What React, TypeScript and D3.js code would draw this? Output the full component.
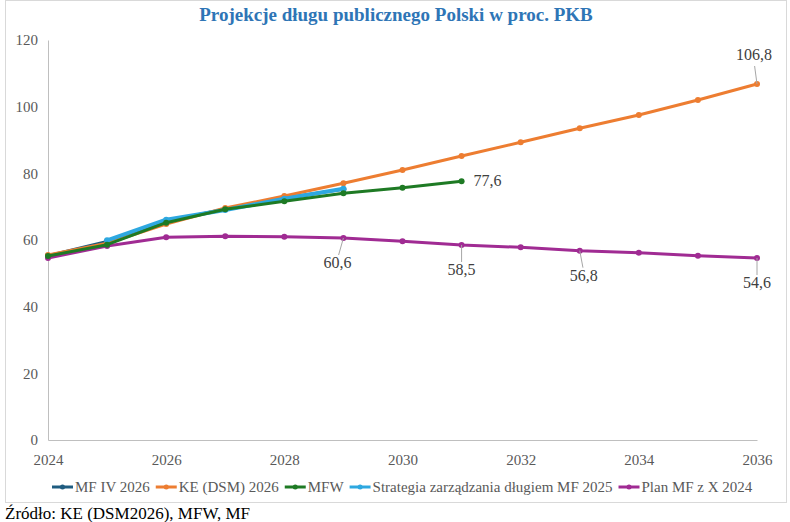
import React, { useEffect, useRef } from 'react';
import * as d3 from 'd3';

// years on the x axis
const years = [2024, 2025, 2026, 2027, 2028, 2029, 2030, 2031, 2032, 2033, 2034, 2035, 2036];
const xTicks = [2024, 2026, 2028, 2030, 2032, 2034, 2036];
const yTicks = [0, 20, 40, 60, 80, 100, 120];

// series values (% PKB), null = no data
const mfIv2026 = [55.3, 59.6, 65.6, 69.3, 72.6, 75.2, null, null, null, null, null, null, null];
const keDsm2026 = [55.5, 59.0, 64.8, 69.6, 73.2, 77.0, 81.0, 85.2, 89.3, 93.5, 97.5, 102.0, 106.8];
const mfw = [55.2, 58.6, 65.2, 69.2, 71.6, 74.0, 75.7, 77.6, null, null, null, null, null];
const strategia = [null, 59.9, 66.1, 69.0, 72.4, 75.4, null, null, null, null, null, null, null];
const planMf = [54.6, 58.2, 60.8, 61.1, 61.0, 60.6, 59.6, 58.5, 57.8, 56.8, 56.2, 55.3, 54.6];

const seriesNames = ['MF IV 2026', 'KE (DSM) 2026', 'MFW', 'Strategia zarządzania długiem MF 2025', 'Plan MF z X 2024'];
const seriesColors = ['#1f5c80', '#ed7d31', '#1e7a24', '#2ea8e0', '#a02b93'];

// labelled points: series index, year, text
const pointLabels = [
    { s: 1, year: 2036, text: '106,8', dx: -3, dy: -24, anchor: 'middle', leader: true },
    { s: 2, year: 2031, text: '77,6', dx: 12, dy: 5, anchor: 'start', leader: false },
    { s: 4, year: 2029, text: '60,6', dx: -6, dy: 30, anchor: 'middle', leader: true },
    { s: 4, year: 2031, text: '58,5', dx: 0, dy: 30, anchor: 'middle', leader: true },
    { s: 4, year: 2033, text: '56,8', dx: 4, dy: 30, anchor: 'middle', leader: true },
    { s: 4, year: 2036, text: '54,6', dx: 0, dy: 30, anchor: 'middle', leader: true },
];

export default function App() {
    const ref = useRef<SVGSVGElement>(null);

    useEffect(() => {
        drawChart();
        // eslint-disable-next-line
    }, []);

    function drawChart() {
        const width = 790;
        const height = 522;
        const margin = { top: 40, right: 33, bottom: 82, left: 48 };
        const font = "'Liberation Serif', 'Times New Roman', serif";
        const grey = '#595959';

        const svg = d3.select(ref.current);
        svg.selectAll('*').remove();

        // chart frame
        svg.append('rect')
            .attr('x', 5.5)
            .attr('y', 0.5)
            .attr('width', 781)
            .attr('height', 502)
            .attr('fill', '#fff')
            .attr('stroke', '#d9d9d9');

        svg.append('text')
            .attr('x', 396)
            .attr('y', 21)
            .attr('text-anchor', 'middle')
            .attr('font-family', font)
            .attr('font-weight', 'bold')
            .attr('font-size', 19)
            .attr('fill', '#2e75b6')
            .text('Projekcje długu publicznego Polski w proc. PKB');

        const x = d3
            .scaleLinear()
            .domain([2024, 2036])
            .range([margin.left, width - margin.right]);
        const y = d3
            .scaleLinear()
            .domain([0, 120])
            .range([height - margin.bottom, margin.top]);

        // axes
        const xAxis = svg
            .append('g')
            .attr('transform', `translate(0,${y(0)})`)
            .call(d3.axisBottom(x).tickValues(xTicks).tickFormat(d3.format('d')).tickSize(0).tickPadding(14));
        const yAxis = svg
            .append('g')
            .attr('transform', `translate(${x(2024)},0)`)
            .call(d3.axisLeft(y).tickValues(yTicks).tickSize(0).tickPadding(10));
        [xAxis, yAxis].forEach((g) => {
            g.attr('font-family', font).attr('font-size', 15);
            g.select('.domain').attr('stroke', '#bfbfbf');
            g.selectAll('text').attr('fill', grey);
        });

        const allSeries = [mfIv2026, keDsm2026, mfw, strategia, planMf];
        const line = d3
            .line<number | null>()
            .defined((d) => d != null)
            .x((d, i) => x(years[i]))
            .y((d) => y(d as number));

        // draw order: first series at the bottom
        const order = [0, 4, 1, 3, 2];
        order.forEach((s) => {
            const vals = allSeries[s];
            svg.append('path')
                .attr('fill', 'none')
                .attr('stroke', seriesColors[s])
                .attr('stroke-width', s === 3 ? 4 : 3)
                .attr('stroke-linejoin', 'round')
                .attr('d', line(vals));
            svg.append('g')
                .selectAll('circle')
                .data(vals.map((v, i) => ({ v, year: years[i] })).filter((d) => d.v != null))
                .enter()
                .append('circle')
                .attr('cx', (d) => x(d.year))
                .attr('cy', (d) => y(d.v as number))
                .attr('r', 3)
                .attr('fill', seriesColors[s]);
        });

        // data labels
        pointLabels.forEach((l) => {
            const v = allSeries[l.s][years.indexOf(l.year)] as number;
            const px = x(l.year);
            const py = y(v);
            if (l.leader) {
                svg.append('line')
                    .attr('x1', px)
                    .attr('y1', py)
                    .attr('x2', px + l.dx * 0.8)
                    .attr('y2', py + (l.dy > 0 ? l.dy - 13 : l.dy + 6))
                    .attr('stroke', '#a6a6a6')
                    .attr('stroke-width', 1);
            }
            svg.append('text')
                .attr('x', px + l.dx)
                .attr('y', py + l.dy)
                .attr('text-anchor', l.anchor)
                .attr('font-family', font)
                .attr('font-size', 16)
                .attr('fill', '#404040')
                .text(l.text);
        });

        // legend
        const legend = svg.append('g').attr('transform', 'translate(52,487)');
        let lx = 0;
        seriesNames.forEach((name, i) => {
            const g = legend.append('g').attr('transform', `translate(${lx},0)`);
            g.append('line')
                .attr('x1', 0)
                .attr('x2', 21)
                .attr('stroke', seriesColors[i])
                .attr('stroke-width', 3);
            g.append('circle').attr('cx', 10.5).attr('r', 2.5).attr('fill', seriesColors[i]);
            const t = g
                .append('text')
                .attr('x', 23)
                .attr('y', 5)
                .attr('font-family', font)
                .attr('font-size', 15)
                .attr('fill', grey)
                .text(name);
            const w = (t.node() as SVGTextElement).getComputedTextLength();
            lx += 23 + w + 6;
        });

        // source note
        svg.append('text')
            .attr('x', 5)
            .attr('y', 519)
            .attr('font-family', font)
            .attr('font-size', 17)
            .attr('fill', '#000')
            .text('Źródło: KE (DSM2026), MFW, MF');
    }

    return (
        <svg
            ref={ref}
            width={790}
            height={522}
            style={{ position: 'absolute', left: 0, top: 0, background: '#fff' }}
        />
    );
}
